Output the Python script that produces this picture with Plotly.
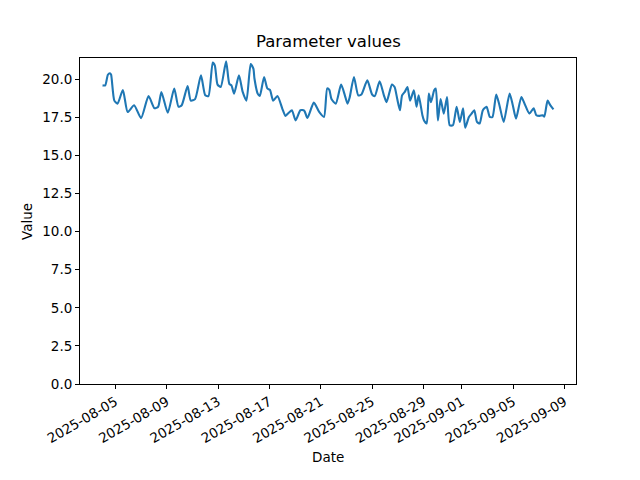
import pandas as pd
import plotly.graph_objects as go

start_date = "2025-08-04 00:00"
hours = [0, 5, 10, 14, 16, 22, 28, 38, 47, 59, 72, 86, 97, 104, 110, 122, 134, 142, 148,
         159, 165, 173, 184, 192, 198, 206, 210, 215, 221, 231, 237, 241, 246, 255, 262,
         269, 277, 282, 284, 290, 294, 302, 308, 313, 319, 327, 336, 342, 348, 354, 361,
         370, 377, 383, 395, 405, 414, 420, 424, 428, 436, 446, 453, 458, 462, 470, 478,
         484, 495, 504, 509, 518, 526, 531, 541, 546, 551, 556, 560, 565, 570, 575, 582,
         587, 591, 598, 601, 606, 610, 614, 620, 623, 627, 632, 638, 644, 649, 655, 662,
         668, 674, 678, 685, 690, 695, 700, 705, 711, 718, 724, 729, 736, 742, 750, 761,
         767, 773, 783, 789, 798, 806, 811, 817, 823, 826, 832, 837, 843]
values = [19.6, 19.6, 20.3, 20.4, 20.3, 18.6, 18.4, 19.3, 17.85, 18.3, 17.45, 18.9, 18.1,
          18.2, 19.17, 17.8, 19.4, 18.2, 18.3, 19.55, 18.6, 18.7, 20.26, 18.95, 18.9, 21.1,
          20.9, 19.65, 19.5, 21.18, 19.7, 19.6, 19.06, 20.26, 19.17, 18.6, 21.0, 20.7, 20.05,
          19.06, 18.9, 20.15, 19.4, 19.3, 18.6, 18.9, 18.08, 17.6, 17.8, 17.97, 17.3, 17.97,
          17.95, 17.46, 18.47, 17.86, 17.53, 19.4, 19.3, 18.7, 18.4, 19.65, 18.95, 18.4, 18.8,
          20.15, 18.95, 19.0, 19.93, 19.0, 18.9, 19.87, 18.95, 18.5, 19.65, 19.5, 18.7, 17.97,
          18.95, 19.17, 19.5, 18.6, 19.28, 18.2, 18.95, 17.64, 17.3, 17.1, 19.06, 18.5, 19.28,
          19.4, 17.3, 18.7, 17.75, 18.84, 16.98, 16.98, 18.2, 17.2, 18.1, 16.82, 17.53, 17.75,
          17.97, 17.2, 17.1, 17.97, 18.2, 17.53, 17.53, 19.0, 18.3, 17.2, 19.06, 18.3, 17.42,
          18.84, 18.4, 17.75, 18.1, 17.64, 17.6, 17.64, 17.55, 18.6, 18.3, 18.03]
tick_dates = ["2025-08-05", "2025-08-09", "2025-08-13", "2025-08-17", "2025-08-21",
              "2025-08-25", "2025-08-29", "2025-09-01", "2025-09-05", "2025-09-09"]
y_ticks = [0, 2.5, 5, 7.5, 10, 12.5, 15, 17.5, 20]

t0 = pd.Timestamp(start_date)
dates = t0 + pd.to_timedelta(hours, unit="h")
span = dates[-1] - dates[0]
x_range = [dates[0] - 0.05 * span, dates[-1] + 0.05 * span]
vmin, vmax = min(values), max(values)
y_top = vmax + 0.05 * (vmax - vmin)

font = "DejaVu Sans, Verdana, sans-serif"
fig = go.Figure()
fig.add_trace(go.Scatter(x=dates, y=values, mode="lines", line_shape="spline",
                         line=dict(color="#1f77b4", width=2.1, smoothing=0.6),
                         showlegend=False))

axis_common = dict(showline=True, linecolor="black", linewidth=1, mirror=True,
                   ticks="outside", ticklen=4, tickwidth=1, tickcolor="black",
                   showgrid=False, zeroline=False, automargin=False,
                   tickfont=dict(family=font, size=13.5, color="black"))
fig.update_xaxes(range=x_range, tickvals=tick_dates, ticktext=tick_dates,
                 tickangle=-30, **axis_common)
fig.update_yaxes(range=[0, y_top], tickvals=y_ticks, tickformat=".1f", **axis_common)

# page body adds an 8px offset, so margins are shifted to compensate
fig.update_layout(
    width=640, height=480,
    margin=dict(l=72, r=72, t=49.6, b=104, pad=0),
    paper_bgcolor="white", plot_bgcolor="white",
    font=dict(family=font, size=13.5, color="black"),
    annotations=[
        dict(text="Parameter values", xref="paper", yref="paper", x=0.5, y=1,
             xanchor="center", yanchor="bottom", yshift=5, showarrow=False,
             font=dict(family=font, size=16.5, color="black")),
        dict(text="Value", xref="paper", yref="paper", x=-0.107, y=0.5,
             xanchor="center", yanchor="middle", textangle=-90, showarrow=False,
             font=dict(family=font, size=13.5, color="black")),
        dict(text="Date", xref="paper", yref="paper", x=0.5, y=-0.224,
             xanchor="center", yanchor="middle", showarrow=False,
             font=dict(family=font, size=13.5, color="black")),
    ],
)
fig.write_html("out.html")
